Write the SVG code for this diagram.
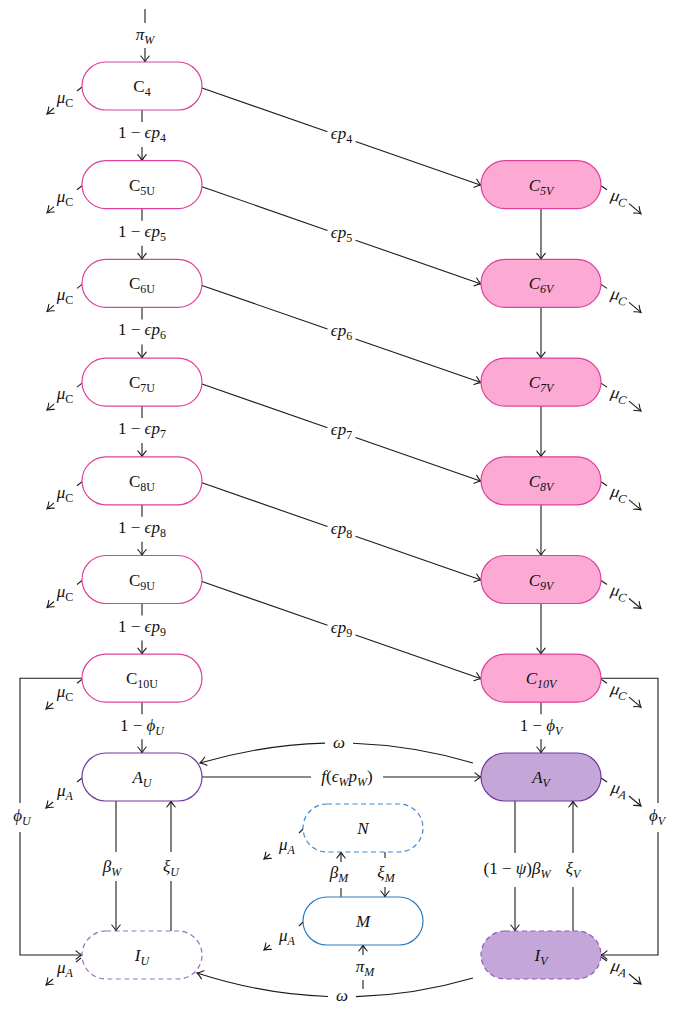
<svg xmlns="http://www.w3.org/2000/svg" width="676" height="1012" viewBox="0 0 676 1012">
<defs>
<style>
.t{font-family:"Liberation Serif","Times New Roman",serif;font-size:17px;fill:#111;text-anchor:middle}
.i{font-style:italic}
.n{font-style:normal}
.s{font-size:12px}
.c{fill:none;stroke:#1a1a1a;stroke-width:1.1}
.ar{marker-end:url(#a)}
.cu{fill:#fff;stroke:#e0409a;stroke-width:1.2}
.cv{fill:#fca9d4;stroke:#e0409a;stroke-width:1.2}
.au{fill:#fff;stroke:#6f3b9e;stroke-width:1.2}
.av{fill:#c4a6d9;stroke:#6f3b9e;stroke-width:1.2}
.iu{fill:#fff;stroke:#9b6bc3;stroke-width:1.2;stroke-dasharray:5 3.5}
.iv{fill:#c4a6d9;stroke:#8d5cb8;stroke-width:1.2;stroke-dasharray:5 3.5}
.nn{fill:#fff;stroke:#3b8bd0;stroke-width:1.2;stroke-dasharray:5 3.5}
.mm{fill:#fff;stroke:#2b7cc0;stroke-width:1.2}
</style>
<marker id="a" viewBox="-8 -6 10 12" markerWidth="10" markerHeight="12" refX="0" refY="0" orient="auto" markerUnits="userSpaceOnUse">
<path d="M-6,-4.2 C-3.5,-2 -1.5,-0.6 0,0 C-1.5,0.6 -3.5,2 -6,4.2" fill="none" stroke="#1a1a1a" stroke-width="1.1" stroke-linecap="round"/>
</marker>
</defs>
<rect width="676" height="1012" fill="#fff"/>

<g id="connectors">
<path class="c" d="M145 9V23"/>
<text class="t i" x="145" y="40">π<tspan class="s" dy="4">W</tspan></text>
<path class="c ar" d="M145 48V62"/>

<path class="c" d="M142 110V122"/><text class="t" x="142" y="138">1 − <tspan class="i">ϵp</tspan><tspan class="s" dy="4">4</tspan></text><path class="c ar" d="M142 147V160.7"/>
<path class="c" d="M142 208.7V220.7"/><text class="t" x="142" y="236.7">1 − <tspan class="i">ϵp</tspan><tspan class="s" dy="4">5</tspan></text><path class="c ar" d="M142 245.7V259.4"/>
<path class="c" d="M142 307.4V319.4"/><text class="t" x="142" y="335.4">1 − <tspan class="i">ϵp</tspan><tspan class="s" dy="4">6</tspan></text><path class="c ar" d="M142 344.4V358.1"/>
<path class="c" d="M142 406.1V418.1"/><text class="t" x="142" y="434.1">1 − <tspan class="i">ϵp</tspan><tspan class="s" dy="4">7</tspan></text><path class="c ar" d="M142 443.1V456.8"/>
<path class="c" d="M142 504.8V516.8"/><text class="t" x="142" y="532.8">1 − <tspan class="i">ϵp</tspan><tspan class="s" dy="4">8</tspan></text><path class="c ar" d="M142 541.8V555.5"/>
<path class="c" d="M142 603.5V615.5"/><text class="t" x="142" y="631.5">1 − <tspan class="i">ϵp</tspan><tspan class="s" dy="4">9</tspan></text><path class="c ar" d="M142 640.5V654.2"/>
<path class="c" d="M142 702.2V714.2"/><text class="t" x="142" y="731">1 − <tspan class="i">ϕ</tspan><tspan class="s i" dy="4">U</tspan></text><path class="c ar" d="M142 739.2V753"/>

<path class="c ar" d="M541 208.7V259.4"/>
<path class="c ar" d="M541 307.4V358.1"/>
<path class="c ar" d="M541 406.1V456.8"/>
<path class="c ar" d="M541 504.8V555.5"/>
<path class="c ar" d="M541 603.5V654.2"/>
<path class="c" d="M541 702.2V714.2"/><text class="t" x="541" y="731">1 − <tspan class="i">ϕ</tspan><tspan class="s i" dy="4">V</tspan></text><path class="c ar" d="M541 739.2V753"/>

<path class="c" d="M202 88L327.5 131.7"/><path class="c ar" d="M355.5 141.5L481 185.2"/><text class="t i" x="341.5" y="139">ϵp<tspan class="s n" dy="4">4</tspan></text>
<path class="c" d="M202 186.7L327.5 230.4"/><path class="c ar" d="M355.5 240.2L481 283.9"/><text class="t i" x="341.5" y="237.7">ϵp<tspan class="s n" dy="4">5</tspan></text>
<path class="c" d="M202 285.4L327.5 329.1"/><path class="c ar" d="M355.5 338.9L481 382.6"/><text class="t i" x="341.5" y="336.4">ϵp<tspan class="s n" dy="4">6</tspan></text>
<path class="c" d="M202 384.1L327.5 427.8"/><path class="c ar" d="M355.5 437.6L481 481.3"/><text class="t i" x="341.5" y="435.1">ϵp<tspan class="s n" dy="4">7</tspan></text>
<path class="c" d="M202 482.8L327.5 526.5"/><path class="c ar" d="M355.5 536.3L481 580"/><text class="t i" x="341.5" y="533.8">ϵp<tspan class="s n" dy="4">8</tspan></text>
<path class="c" d="M202 581.5L327.5 625.2"/><path class="c ar" d="M355.5 635L481 678.7"/><text class="t i" x="341.5" y="632.5">ϵp<tspan class="s n" dy="4">9</tspan></text>

<path class="c" d="M82 87L77 91"/><text class="t i" x="65" y="103">μ<tspan class="s n" dy="4">C</tspan></text><path class="c ar" d="M54 108L47 114"/>
<path class="c" d="M82 185.7L77 189.7"/><text class="t i" x="65" y="201.7">μ<tspan class="s n" dy="4">C</tspan></text><path class="c ar" d="M54 206.7L47 212.7"/>
<path class="c" d="M82 284.4L77 288.4"/><text class="t i" x="65" y="300.4">μ<tspan class="s n" dy="4">C</tspan></text><path class="c ar" d="M54 305.4L47 311.4"/>
<path class="c" d="M82 383.1L77 387.1"/><text class="t i" x="65" y="399.1">μ<tspan class="s n" dy="4">C</tspan></text><path class="c ar" d="M54 404.1L47 410.1"/>
<path class="c" d="M82 481.8L77 485.8"/><text class="t i" x="65" y="497.8">μ<tspan class="s n" dy="4">C</tspan></text><path class="c ar" d="M54 502.8L47 508.8"/>
<path class="c" d="M82 580.5L77 584.5"/><text class="t i" x="65" y="596.5">μ<tspan class="s n" dy="4">C</tspan></text><path class="c ar" d="M54 601.5L47 607.5"/>
<path class="c" d="M82 679.2L77 683.2"/><text class="t i" x="65" y="697">μ<tspan class="s n" dy="4">C</tspan></text><path class="c ar" d="M53 703L46 709"/>
<path class="c" d="M82 778L77 782"/><text class="t i" x="65" y="796">μ<tspan class="s" dy="4">A</tspan></text><path class="c ar" d="M53 802L46 808"/>
<path class="c" d="M81 958L76 962"/><text class="t i" x="65" y="973">μ<tspan class="s" dy="4">A</tspan></text><path class="c ar" d="M53 979L46 985"/>

<path class="c" d="M601 185.7L607 189.7"/><text class="t i" x="619" y="201.7" transform="rotate(12 619 197.7)">μ<tspan class="s" dy="4">C</tspan></text><path class="c ar" d="M629 203.7L641 213.7"/>
<path class="c" d="M601 284.4L607 288.4"/><text class="t i" x="619" y="300.4" transform="rotate(12 619 296.4)">μ<tspan class="s" dy="4">C</tspan></text><path class="c ar" d="M629 302.4L641 312.4"/>
<path class="c" d="M601 383.1L607 387.1"/><text class="t i" x="619" y="399.1" transform="rotate(12 619 395.1)">μ<tspan class="s" dy="4">C</tspan></text><path class="c ar" d="M629 401.1L641 411.1"/>
<path class="c" d="M601 481.8L607 485.8"/><text class="t i" x="619" y="497.8" transform="rotate(12 619 493.8)">μ<tspan class="s" dy="4">C</tspan></text><path class="c ar" d="M629 499.8L641 509.8"/>
<path class="c" d="M601 580.5L607 584.5"/><text class="t i" x="619" y="596.5" transform="rotate(12 619 592.5)">μ<tspan class="s" dy="4">C</tspan></text><path class="c ar" d="M629 598.5L641 608.5"/>
<path class="c" d="M601 679.2L607 683.2"/><text class="t i" x="619" y="695.2" transform="rotate(12 619 691.2)">μ<tspan class="s" dy="4">C</tspan></text><path class="c ar" d="M629 697.2L641 707.2"/>
<path class="c" d="M601 778L607 782"/><text class="t i" x="619" y="794" transform="rotate(12 619 790)">μ<tspan class="s" dy="4">A</tspan></text><path class="c ar" d="M629 796L641 806"/>
<path class="c" d="M601 957L607 961"/><text class="t i" x="619" y="972" transform="rotate(12 619 968)">μ<tspan class="s" dy="4">A</tspan></text><path class="c ar" d="M629 974L641 984"/>

<path class="c" d="M303 829L299 833"/><text class="t i" x="287" y="850">μ<tspan class="s" dy="4">A</tspan></text><path class="c ar" d="M270 854L264 859"/>
<path class="c" d="M303 922L299 926"/><text class="t i" x="287" y="941">μ<tspan class="s" dy="4">A</tspan></text><path class="c ar" d="M270 945L264 950"/>

<path class="c" d="M82 678.2H20V803"/><text class="t i" x="22" y="821">ϕ<tspan class="s" dy="4">U</tspan></text><path class="c ar" d="M20 832V955H82"/>
<path class="c" d="M601 678.2H658V803"/><text class="t i" x="657" y="821">ϕ<tspan class="s" dy="4">V</tspan></text><path class="c ar" d="M658 832V955H601"/>

<path class="c" d="M202 777H311"/><path class="c ar" d="M383 777H481"/>
<text class="t i" x="347" y="782">f<tspan class="n">(</tspan>ϵ<tspan class="s" dy="4">W</tspan><tspan dy="-4">p</tspan><tspan class="s" dy="4">W</tspan><tspan class="n" dy="-4">)</tspan></text>

<path class="c" d="M473 763Q413.2 745.4 353 743.3"/><path class="c ar" d="M325 743.1Q262.7 744.7 200 763"/>
<text class="t i" x="339" y="748">ω</text>

<path class="c" d="M473 978Q414.5 995.1 356 996.6"/><path class="c ar" d="M328 996.5Q262.7 994.3 197 973"/>
<text class="t i" x="342" y="1001">ω</text>

<path class="c" d="M116 801V852"/><text class="t i" x="112" y="872">β<tspan class="s" dy="4">W</tspan></text><path class="c ar" d="M116 881V931"/>
<path class="c" d="M171 931V881"/><text class="t i" x="171" y="872">ξ<tspan class="s" dy="4">U</tspan></text><path class="c ar" d="M171 852V801"/>

<path class="c" d="M515 801V853"/><text class="t" x="517" y="874">(1 − <tspan class="i">ψ</tspan>)<tspan class="i">β</tspan><tspan class="s i" dy="4">W</tspan></text><path class="c ar" d="M515 887V931"/>
<path class="c" d="M573 931V887"/><text class="t i" x="573" y="874">ξ<tspan class="s" dy="4">V</tspan></text><path class="c ar" d="M573 853V801"/>

<path class="c" d="M341 897V888"/><text class="t i" x="339" y="878">β<tspan class="s" dy="4">M</tspan></text><path class="c ar" d="M341 862V852"/>
<path class="c" d="M385 852V858"/><text class="t i" x="386" y="878">ξ<tspan class="s" dy="4">M</tspan></text><path class="c ar" d="M385 887V897"/>
<path class="c" d="M363 989V980"/><text class="t i" x="365" y="972">π<tspan class="s" dy="4">M</tspan></text><path class="c ar" d="M363 955V945"/>
</g>

<g id="C4"><rect class="cu" x="82" y="62" width="120" height="48" rx="24"/><text class="t" x="142" y="92">C<tspan class="s" dy="4">4</tspan></text></g>
<g id="C5U"><rect class="cu" x="82" y="160.7" width="120" height="48" rx="24"/><text class="t" x="142" y="190.7">C<tspan class="s" dy="4">5U</tspan></text></g>
<g id="C6U"><rect class="cu" x="82" y="259.4" width="120" height="48" rx="24"/><text class="t" x="142" y="289.4">C<tspan class="s" dy="4">6U</tspan></text></g>
<g id="C7U"><rect class="cu" x="82" y="358.1" width="120" height="48" rx="24"/><text class="t" x="142" y="388.1">C<tspan class="s" dy="4">7U</tspan></text></g>
<g id="C8U"><rect class="cu" x="82" y="456.8" width="120" height="48" rx="24"/><text class="t" x="142" y="486.8">C<tspan class="s" dy="4">8U</tspan></text></g>
<g id="C9U"><rect class="cu" x="82" y="555.5" width="120" height="48" rx="24"/><text class="t" x="142" y="585.5">C<tspan class="s" dy="4">9U</tspan></text></g>
<g id="C10U"><rect class="cu" x="82" y="654.2" width="120" height="48" rx="24"/><text class="t" x="142" y="684.2">C<tspan class="s" dy="4">10U</tspan></text></g>
<g id="AU"><rect class="au" x="82" y="753" width="120" height="48" rx="24"/><text class="t i" x="142" y="783">A<tspan class="s" dy="4">U</tspan></text></g>
<g id="IU"><rect class="iu" x="82" y="931" width="120" height="48" rx="24"/><text class="t i" x="142" y="961">I<tspan class="s" dy="4">U</tspan></text></g>

<g id="C5V"><rect class="cv" x="481" y="160.7" width="120" height="48" rx="24"/><text class="t i" x="541" y="190.7">C<tspan class="s" dy="4">5V</tspan></text></g>
<g id="C6V"><rect class="cv" x="481" y="259.4" width="120" height="48" rx="24"/><text class="t i" x="541" y="289.4">C<tspan class="s" dy="4">6V</tspan></text></g>
<g id="C7V"><rect class="cv" x="481" y="358.1" width="120" height="48" rx="24"/><text class="t i" x="541" y="388.1">C<tspan class="s" dy="4">7V</tspan></text></g>
<g id="C8V"><rect class="cv" x="481" y="456.8" width="120" height="48" rx="24"/><text class="t i" x="541" y="486.8">C<tspan class="s" dy="4">8V</tspan></text></g>
<g id="C9V"><rect class="cv" x="481" y="555.5" width="120" height="48" rx="24"/><text class="t i" x="541" y="585.5">C<tspan class="s" dy="4">9V</tspan></text></g>
<g id="C10V"><rect class="cv" x="481" y="654.2" width="120" height="48" rx="24"/><text class="t i" x="541" y="684.2">C<tspan class="s" dy="4">10V</tspan></text></g>
<g id="AV"><rect class="av" x="481" y="753" width="120" height="48" rx="24"/><text class="t i" x="541" y="783">A<tspan class="s" dy="4">V</tspan></text></g>
<g id="IV"><rect class="iv" x="481" y="931" width="120" height="48" rx="24"/><text class="t i" x="541" y="961">I<tspan class="s" dy="4">V</tspan></text></g>

<g id="N"><rect class="nn" x="303" y="804" width="120" height="48" rx="24"/><text class="t i" x="363" y="834">N</text></g>
<g id="M"><rect class="mm" x="303" y="897" width="120" height="48" rx="24"/><text class="t i" x="363" y="927">M</text></g>
</svg>
